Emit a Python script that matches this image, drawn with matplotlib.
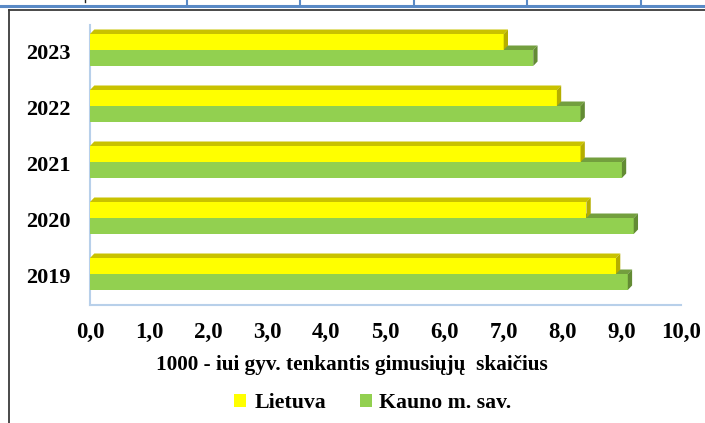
import matplotlib
matplotlib.use('Agg')
import matplotlib.pyplot as plt
from matplotlib.patches import Polygon, Patch
from matplotlib.lines import Line2D

plt.rcParams['font.family'] = ['Liberation Serif', 'DejaVu Serif']
plt.rcParams['font.weight'] = 'bold'

# duomenys
metai = ['2019', '2020', '2021', '2022', '2023']
lietuva = [8.9, 8.4, 8.3, 7.9, 7.0]
kaunas = [9.1, 9.2, 9.0, 8.3, 7.5]
xticks = [0, 1, 2, 3, 4, 5, 6, 7, 8, 9, 10]

W, H = 705, 423
fig = plt.figure(figsize=(W / 100, H / 100), dpi=100)


def fx(x):
    return x / W


def fy(y):
    return 1 - y / H


# asis (priekine plokstuma)
ax_l, ax_r, ax_t, ax_b = 90, 681, 25, 305
ax = fig.add_axes([fx(ax_l), fy(ax_b), (ax_r - ax_l) / W, (ax_b - ax_t) / H])
ax.set_xlim(0, 10)
ytop = 4 + 25 / 56
ax.set_ylim(ytop - 5, ytop)

px_x = (ax_r - ax_l) / 10
px_y = (ax_b - ax_t) / 5
dx = 4.3 / px_x
dy = 4.5 / px_y
h = 16 / 56

spalvos = {
    'geltona': ('#FFFF00', '#C9C200', '#B5AE00'),
    'zalia': ('#92D050', '#739F3E', '#638B34'),
}


def bar3d(y0, v, sp):
    front, top, side = sp
    ax.add_patch(Polygon([(0, y0), (v, y0), (v, y0 + h), (0, y0 + h)],
                         closed=True, facecolor=front, edgecolor='none', zorder=3))
    ax.add_patch(Polygon([(0, y0 + h), (v, y0 + h), (v + dx, y0 + h + dy), (dx, y0 + h + dy)],
                         closed=True, facecolor=top, edgecolor='none', zorder=3))
    ax.add_patch(Polygon([(v, y0), (v + dx, y0 + dy), (v + dx, y0 + h + dy), (v, y0 + h)],
                         closed=True, facecolor=side, edgecolor='none', zorder=3))


for i in range(len(metai)):
    bar3d(i - h, kaunas[i], spalvos['zalia'])
    bar3d(i, lietuva[i], spalvos['geltona'])

for s in ['top', 'right']:
    ax.spines[s].set_visible(False)
for s in ['left', 'bottom']:
    ax.spines[s].set_color('#B8D0EA')
    ax.spines[s].set_linewidth(1.5)

ax.set_xticks(xticks)
ax.set_xticklabels([('%.1f' % v).replace('.', ',') for v in xticks])
ax.tick_params(axis='x', length=0, pad=12, labelsize=16.5)
ax.set_yticks([])

for i, m in enumerate(metai):
    ax.text((48 - ax_l) / (ax_r - ax_l), i - 4 / px_y, m, transform=ax.get_yaxis_transform(),
            ha='center', va='center', fontsize=16, fontweight='bold')

fig.text(fx(352), fy(365), '1000 - iui gyv. tenkantis gimusiųjų  skaičius',
         ha='center', va='center', fontsize=15.3, fontweight='bold')

# legenda
handles = [Patch(facecolor='#FFFF00', edgecolor='none', label='Lietuva'),
           Patch(facecolor='#92D050', edgecolor='none', label='Kauno m. sav.')]
fig.legend(handles=handles, loc='center', bbox_to_anchor=(fx(373), fy(403)), ncol=2,
           frameon=False, fontsize=15.7, handlelength=0.55, handleheight=0.55,
           handletextpad=0.35, columnspacing=1.55, borderpad=0)

# dokumento lenteles remeliai
fig.add_artist(Line2D([0, 1], [fy(6.5), fy(6.5)], transform=fig.transFigure, color='#5A8AC6', lw=2.2))
for x in [187, 300, 414, 527, 641]:
    fig.add_artist(Line2D([fx(x), fx(x)], [fy(0), fy(6)], transform=fig.transFigure, color='#5A8AC6', lw=1.5))
fig.add_artist(Line2D([fx(85), fx(85)], [fy(0), fy(2.5)], transform=fig.transFigure, color='#222222', lw=1))
fig.add_artist(Line2D([fx(9), 1], [fy(10), fy(10)], transform=fig.transFigure, color='#3A3A3A', lw=1.3))
fig.add_artist(Line2D([fx(9), fx(9)], [fy(10), 0], transform=fig.transFigure, color='#3A3A3A', lw=1.3))

fig.savefig('out.png', dpi=100)
